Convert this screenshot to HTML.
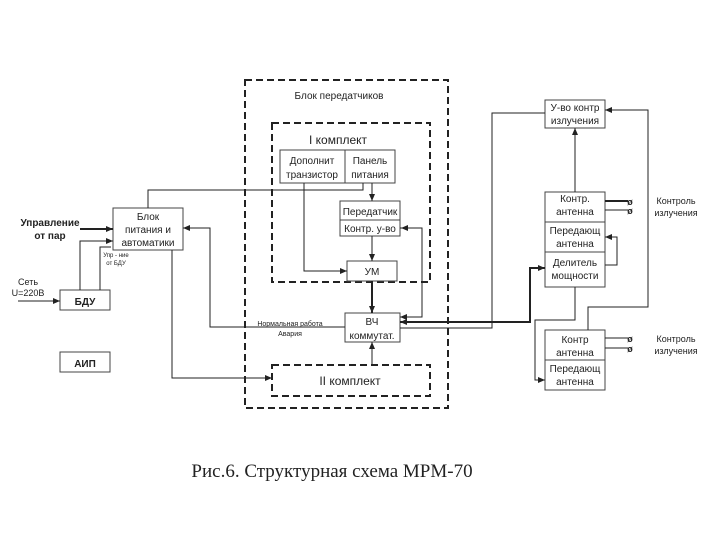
<!DOCTYPE html>
<html><head><meta charset="utf-8"><style>
body{margin:0;background:#fff}
svg text{font-family:"Liberation Sans","DejaVu Sans",sans-serif;fill:#222}
</style></head><body>
<svg width="720" height="540" xmlns="http://www.w3.org/2000/svg">
<defs><marker id="a" markerWidth="8" markerHeight="8" refX="7" refY="4" orient="auto" markerUnits="userSpaceOnUse"><path d="M0,1 L7,4 L0,7z" fill="#222"/></marker></defs>
<g fill="none" stroke="#222" stroke-width="2" stroke-dasharray="7,4">
<rect x="245" y="80" width="203" height="328"/>
<rect x="272" y="123" width="158" height="159"/>
<rect x="272" y="365" width="158" height="31"/>
</g>
<g fill="#fff" stroke="#444" stroke-width="1">
<rect x="280" y="150" width="115" height="33"/><line x1="345" y1="150" x2="345" y2="183"/>
<rect x="340" y="201" width="60" height="35"/><line x1="340" y1="220" x2="400" y2="220"/>
<rect x="347" y="261" width="50" height="20"/>
<rect x="345" y="313" width="55" height="29"/>
<rect x="113" y="208" width="70" height="42"/>
<rect x="60" y="290" width="50" height="20"/>
<rect x="60" y="352" width="50" height="20"/>
<rect x="545" y="100" width="60" height="28"/>
<rect x="545" y="192" width="60" height="95"/><line x1="545" y1="222" x2="605" y2="222"/><line x1="545" y1="252" x2="605" y2="252"/>
<rect x="545" y="330" width="60" height="60"/><line x1="545" y1="360" x2="605" y2="360"/>
</g>
<g fill="none" stroke="#222" stroke-width="1">
<polyline points="148,208 148,190 363,190 363,183"/>
<line x1="372" y1="183" x2="372" y2="201" marker-end="url(#a)"/>
<polyline points="304,183 304,271 347,271" marker-end="url(#a)"/>
<line x1="372" y1="236" x2="372" y2="261" marker-end="url(#a)"/>
<polyline points="400,228 422,228 422,317 400,317" marker-end="url(#a)"/>
<line x1="422" y1="228" x2="401" y2="228" marker-end="url(#a)"/>
<polyline points="400,328 492,328 492,113 545,113"/>
<polyline points="80,229 113,229" stroke-width="2" marker-end="url(#a)"/>
<polyline points="80,290 80,241 113,241" marker-end="url(#a)"/>
<polyline points="100,290 100,247 111,247"/>
<line x1="18" y1="301" x2="60" y2="301" marker-end="url(#a)"/>
<polyline points="345,327 210,327 210,228 183,228" marker-end="url(#a)"/>
<polyline points="172,250 172,378 272,378" marker-end="url(#a)"/>
<line x1="372" y1="365" x2="372" y2="342" marker-end="url(#a)"/>
<line x1="575" y1="192" x2="575" y2="128" marker-end="url(#a)"/>
<polyline points="575,287 575,320 535,320 535,380 545,380" marker-end="url(#a)"/>
<polyline points="588,330 588,307 648,307 648,110 605,110" marker-end="url(#a)"/>
<polyline points="605,265 617,265 617,237 605,237" marker-end="url(#a)"/>
<line x1="605" y1="201" x2="628" y2="201" stroke-width="2"/><line x1="605" y1="210" x2="628" y2="210"/>
<line x1="605" y1="338" x2="628" y2="338"/><line x1="605" y1="348" x2="628" y2="348"/>
</g>
<g fill="none" stroke="#222" stroke-width="2">
<line x1="372" y1="281" x2="372" y2="313" marker-end="url(#a)"/>
<polyline points="545,268 530,268 530,322 400,322" marker-end="url(#a)"/>
<line x1="530" y1="268" x2="545" y2="268" marker-end="url(#a)"/>
</g>
<g font-size="10" text-anchor="middle">
<text x="339" y="99">Блок  передатчиков</text>
<text x="338" y="144" font-size="12">I комплект</text>
<text x="312" y="164">Дополнит</text><text x="312" y="178">транзистор</text>
<text x="370" y="164">Панель</text><text x="370" y="178">питания</text>
<text x="370" y="215">Передатчик</text><text x="370" y="232">Контр. у-во</text>
<text x="372" y="275">УМ</text>
<text x="372" y="325">ВЧ</text><text x="372" y="339">коммутат.</text>
<text x="350" y="385" font-size="12">II комплект</text>
<text x="148" y="220">Блок</text><text x="148" y="233">питания и</text><text x="148" y="246">автоматики</text>
<text x="85" y="305" font-weight="bold">БДУ</text>
<text x="85" y="367" font-weight="bold">АИП</text>
<text x="50" y="226" font-weight="bold">Управление</text><text x="50" y="239" font-weight="bold">от пар</text>
<text x="28" y="285" font-size="9">Сеть</text><text x="28" y="296" font-size="9">U=220В</text>
<text x="116" y="257" font-size="6">Упр - ние</text><text x="116" y="265" font-size="6">от БДУ</text>
<text x="290" y="326" font-size="7">Нормальная работа</text><text x="290" y="336" font-size="7">Авария</text>
<text x="575" y="111">У-во контр</text><text x="575" y="124">излучения</text>
<text x="575" y="202">Контр.</text><text x="575" y="215">антенна</text>
<text x="575" y="234">Передающ</text><text x="575" y="247">антенна</text>
<text x="575" y="266">Делитель</text><text x="575" y="279">мощности</text>
<text x="575" y="343">Контр</text><text x="575" y="356">антенна</text>
<text x="575" y="372">Передающ</text><text x="575" y="385">антенна</text>
<text x="630" y="205" font-size="9" font-weight="bold">ø</text><text x="630" y="214" font-size="9" font-weight="bold">ø</text>
<text x="630" y="342" font-size="9" font-weight="bold">ø</text><text x="630" y="352" font-size="9" font-weight="bold">ø</text>
<text x="676" y="204" font-size="9">Контроль</text><text x="676" y="216" font-size="9">излучения</text>
<text x="676" y="342" font-size="9">Контроль</text><text x="676" y="354" font-size="9">излучения</text>
</g>
<text x="332" y="477" text-anchor="middle" font-size="19" style="font-family:'Liberation Serif',serif">Рис.6. Структурная схема МРМ-70</text>
</svg>
</body></html>
